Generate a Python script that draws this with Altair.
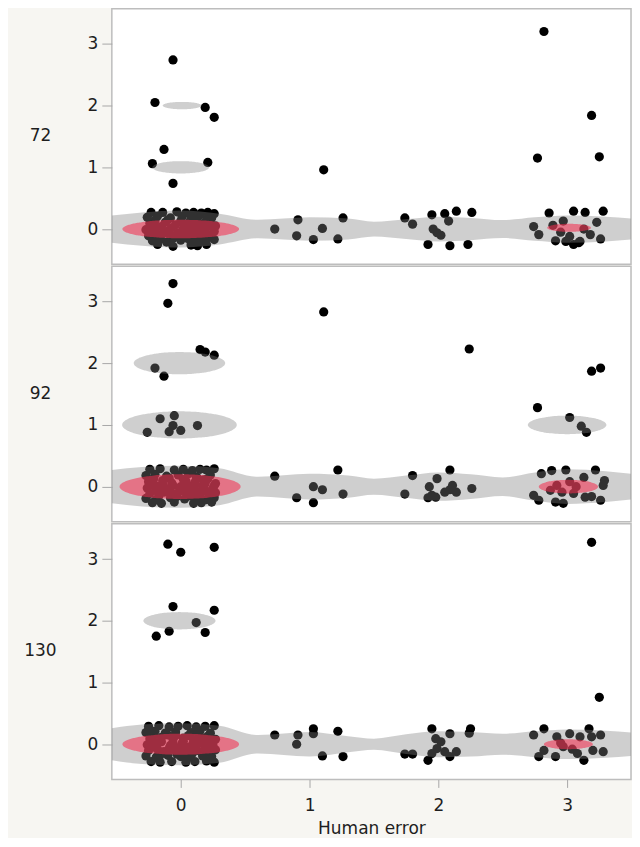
import altair as alt
import pandas as pd
import numpy as np

# ---------------- data ----------------
PANELS = ["72", "92", "130"]

# jittered points (x = Human error, y = value), per panel
P72_X = [-0.06, -0.20, 0.19, 0.26, -0.13, -0.22, 0.21, -0.06,
         -0.23, -0.14, -0.03, 0.04, 0.10, 0.16, 0.21, 0.26,
         -0.26, -0.18, -0.08, 0.01, 0.08, 0.14, 0.24,
         -0.24, -0.12, -0.04, 0.06, 0.15, 0.22, 0.27,
         -0.27, -0.19, -0.09, 0.02, 0.11, 0.19, 0.26,
         -0.25, -0.15, -0.05, 0.04, 0.14, 0.23,
         -0.22, -0.11, 0.00, 0.08, 0.17, 0.26,
         -0.18, -0.06, 0.08, 0.13, 0.20,
         -0.20, -0.10, 0.00, 0.12, 0.20, -0.21, -0.13, -0.02, 0.07, 0.16,
         0.23, -0.16, -0.06, 0.05, 0.12, 0.21, -0.20, 0.09,
         -0.23, -0.15, -0.07, 0.03, 0.11, 0.18, 0.25, -0.19, -0.10, 0.01, 0.10, 0.20,
         0.73, 0.91, 0.90, 1.03, 1.10, 1.22, 1.26, 1.11,
         1.74, 1.80, 1.95, 2.05, 2.14, 2.26, 2.08, 1.96, 1.99, 2.02, 1.92, 2.09, 2.23,
         2.82, 3.19, 3.25, 2.77,
         2.86, 3.05, 3.14, 3.28, 2.74, 2.78, 2.89, 2.97, 3.23, 3.26, 2.91, 3.05, 3.09,
         3.18, 3.13, 2.95, 3.02, 2.99, 3.10]
P72_Y = [2.74, 2.05, 1.97, 1.81, 1.29, 1.06, 1.08, 0.74,
         0.27, 0.27, 0.28, 0.26, 0.27, 0.26, 0.27, 0.25,
         0.19, 0.21, 0.18, 0.20, 0.17, 0.21, 0.18,
         0.09, 0.11, 0.07, 0.10, 0.08, 0.12, 0.05,
         -0.01, 0.02, -0.02, 0.01, -0.01, 0.03, -0.04,
         -0.11, -0.09, -0.12, -0.08, -0.11, -0.10,
         -0.19, -0.21, -0.18, -0.20, -0.19, -0.17,
         -0.25, -0.28, -0.26, -0.27, -0.25,
         0.14, 0.15, 0.13, 0.14, 0.15, -0.05, -0.04, -0.06, -0.04, -0.05,
         0.06, -0.16, -0.15, -0.15, -0.16, -0.14, 0.05, 0.05,
         0.03, 0.04, 0.02, 0.05, 0.03, 0.04, 0.02, -0.08, -0.07, -0.09, -0.08, -0.07,
         0.00, 0.15, -0.11, -0.17, 0.01, -0.16, 0.18, 0.96,
         0.18, 0.08, 0.23, 0.25, 0.29, 0.27, 0.13, 0.00, -0.06, -0.10, -0.25, -0.27, -0.25,
         3.20, 1.84, 1.17, 1.15,
         0.26, 0.29, 0.27, 0.29, 0.04, -0.09, 0.06, 0.13, 0.11, -0.16, -0.19, -0.25, -0.22,
         -0.09, 0.00, -0.05, -0.12, -0.20, -0.20]

P92_X = [-0.06, -0.10, 0.15, 0.19, 0.26, -0.20, -0.13,
         -0.16, -0.05, -0.06, -0.09, 0.00, 0.13, -0.26,
         -0.24, -0.16, -0.05, 0.02, 0.09, 0.15, 0.20, 0.26,
         -0.27, -0.20, -0.11, -0.02, 0.06, 0.12, 0.23,
         -0.25, -0.14, -0.07, 0.04, 0.11, 0.18, 0.27,
         -0.26, -0.18, -0.09, 0.00, 0.09, 0.17, 0.25,
         -0.24, -0.13, -0.04, 0.05, 0.14, 0.22, 0.27,
         -0.27, -0.19, -0.08, 0.03, 0.12, 0.20, 0.26,
         -0.22, -0.15, -0.05, 0.10, 0.16, 0.24,
         -0.21, -0.09, 0.02, 0.13, 0.21, -0.19, -0.12, -0.01, 0.08, 0.19,
         -0.17, -0.03, 0.07, 0.15, 0.24, -0.22, 0.05,
         -0.23, -0.14, -0.06, 0.03, 0.11, 0.19, 0.26, -0.18, -0.08, 0.01, 0.10, 0.21,
         0.73, 0.90, 1.03, 1.03, 1.10, 1.22, 1.26, 1.11,
         1.80, 2.09, 1.99, 1.74, 1.93, 1.95, 1.98, 2.05, 2.11, 2.14, 2.26, 2.09, 1.92, 2.24,
         2.77, 3.19, 3.26, 3.02, 3.11, 3.15,
         2.80, 2.88, 2.99, 3.13, 3.22, 3.28, 3.29, 2.74, 2.78, 2.91, 2.97, 3.07, 3.14,
         3.19, 3.26, 2.92, 3.02, 2.87, 3.05, 2.96]
P92_Y = [3.29, 2.97, 2.22, 2.18, 2.13, 1.92, 1.79,
         1.10, 1.15, 0.99, 0.89, 0.91, 0.99, 0.88,
         0.28, 0.29, 0.27, 0.28, 0.26, 0.28, 0.27, 0.29,
         0.18, 0.20, 0.17, 0.19, 0.21, 0.16, 0.19,
         0.08, 0.10, 0.06, 0.09, 0.07, 0.11, 0.05,
         -0.02, 0.01, -0.03, 0.00, -0.01, 0.02, -0.03,
         -0.11, -0.09, -0.12, -0.10, -0.08, -0.12, -0.10,
         -0.19, -0.21, -0.18, -0.20, -0.19, -0.21, -0.18,
         -0.26, -0.27, -0.25, -0.27, -0.26, -0.25,
         0.13, 0.14, 0.12, 0.14, 0.13, -0.06, -0.05, -0.07, -0.05, -0.06,
         -0.15, -0.16, -0.15, -0.15, -0.16, 0.04, 0.03,
         0.03, 0.04, 0.02, 0.04, 0.03, 0.05, 0.02, -0.08, -0.09, -0.07, -0.08, -0.09,
         0.17, -0.18, -0.26, 0.00, -0.05, 0.27, -0.12, 2.83,
         0.18, 0.27, 0.13, -0.12, 0.00, -0.14, -0.17, -0.09, 0.02, -0.09, -0.03, -0.05, -0.18, 2.23,
         1.28, 1.87, 1.92, 1.12, 0.98, 0.88,
         0.21, 0.26, 0.27, 0.15, 0.27, 0.02, 0.10, -0.14, -0.22, -0.25, -0.27, 0.00, -0.17,
         -0.16, -0.22, 0.02, 0.08, -0.06, -0.11, -0.09]

P130_X = [-0.10, 0.00, 0.26, -0.06, 0.26, 0.12, -0.19, -0.09, 0.19,
          -0.25, -0.17, -0.09, -0.02, 0.05, 0.12, 0.19, 0.26,
          -0.27, -0.20, -0.12, -0.04, 0.08, 0.15, 0.23,
          -0.24, -0.15, -0.06, 0.02, 0.10, 0.18, 0.27,
          -0.26, -0.18, -0.08, 0.01, 0.09, 0.16, 0.25,
          -0.25, -0.13, -0.05, 0.05, 0.13, 0.21, 0.27,
          -0.27, -0.19, -0.10, 0.00, 0.07, 0.17, 0.24,
          -0.23, -0.16, -0.07, 0.04, 0.11, 0.20, 0.26,
          -0.25, -0.17, -0.04, 0.03, 0.12, 0.21,
          -0.21, -0.10, 0.06, 0.14, 0.22, -0.20, -0.02, 0.05, 0.19,
          -0.14, -0.03, 0.09, 0.17, -0.22, 0.12,
          -0.23, -0.15, -0.06, 0.02, 0.10, 0.18, 0.25, -0.18, -0.09, 0.00, 0.09, 0.20,
          0.73, 0.91, 0.90, 1.03, 1.03, 1.22, 1.10, 1.26,
          1.74, 1.80, 1.92, 1.95, 1.98, 2.02, 2.09, 2.25, 2.24, 1.95, 2.05, 2.09, 2.14, 1.99,
          3.19, 3.25,
          2.74, 2.82, 2.78, 2.91, 2.92, 3.02, 3.10, 3.17, 3.19, 3.26, 3.28, 3.13, 3.08,
          2.97, 2.82, 3.20, 2.95, 3.04]
P130_Y = [3.24, 3.11, 3.19, 2.23, 2.17, 1.97, 1.75, 1.83, 1.81,
          0.29, 0.30, 0.28, 0.29, 0.30, 0.28, 0.29, 0.30,
          0.19, 0.21, 0.18, 0.20, 0.19, 0.22, 0.18,
          0.09, 0.11, 0.08, 0.10, 0.07, 0.10, 0.08,
          -0.01, 0.02, -0.02, 0.01, -0.01, 0.02, -0.02,
          -0.10, -0.12, -0.09, -0.11, -0.10, -0.12, -0.09,
          -0.19, -0.21, -0.18, -0.20, -0.21, -0.19, -0.20,
          -0.28, -0.29, -0.28, -0.29, -0.28, -0.27, -0.29,
          0.24, -0.24, 0.14, -0.15, 0.21, 0.13,
          0.14, 0.15, 0.14, 0.13, 0.04, -0.05, -0.06, -0.05, -0.06,
          -0.15, -0.16, -0.15, -0.15, 0.05, 0.04,
          0.03, 0.04, 0.02, 0.05, 0.03, 0.04, 0.03, -0.08, -0.07, -0.09, -0.08, -0.07,
          0.15, 0.15, 0.00, 0.25, 0.17, 0.21, -0.19, -0.20,
          -0.16, -0.16, -0.26, 0.25, 0.09, 0.04, 0.17, 0.25, 0.18, -0.15, -0.12, -0.20, -0.12, -0.07,
          3.27, 0.76,
          0.15, 0.25, -0.20, -0.20, 0.12, 0.17, 0.12, 0.25, 0.12, 0.15, -0.12, -0.26, -0.15,
          -0.04, -0.10, -0.10, 0.02, -0.08]

# grey density band around y = 0: half-thickness (y units) at these x positions
BAND_X = [-0.535, -0.30, 0.00, 0.30, 0.60, 1.00, 1.30, 1.50, 1.75, 2.00, 2.25, 2.50, 2.75, 3.00, 3.30, 3.495]
BAND_72 = [0.22, 0.27, 0.30, 0.25, 0.15, 0.19, 0.17, 0.12, 0.16, 0.20, 0.18, 0.145, 0.19, 0.22, 0.20, 0.17]
BAND_92 = [0.27, 0.32, 0.34, 0.30, 0.16, 0.21, 0.18, 0.13, 0.18, 0.23, 0.20, 0.15, 0.23, 0.28, 0.25, 0.21]
BAND_130 = [0.26, 0.32, 0.34, 0.30, 0.15, 0.20, 0.13, 0.09, 0.16, 0.21, 0.20, 0.17, 0.21, 0.24, 0.22, 0.19]

# grey contour ellipses: panel, centre x, centre y, half width, half height
GRAY_PANEL = ["72", "72", "92", "92", "92", "130"]
GRAY_CX = [0.01, 0.00, -0.01, -0.01, 3.00, -0.01]
GRAY_CY = [2.00, 1.00, 2.00, 1.00, 1.00, 2.00]
GRAY_A = [0.15, 0.22, 0.355, 0.445, 0.305, 0.28]
GRAY_B = [0.06, 0.10, 0.18, 0.22, 0.15, 0.14]

# red core ellipses
PINK_PANEL = ["72", "72", "92", "92", "130", "130"]
PINK_CX = [0.00, 3.015, -0.005, 3.01, 0.00, 3.01]
PINK_CY = [0.00, 0.02, 0.00, 0.00, 0.00, 0.00]
PINK_A = [0.453, 0.17, 0.47, 0.23, 0.453, 0.19]
PINK_B = [0.15, 0.065, 0.20, 0.11, 0.17, 0.08]

POINTS = {"72": (P72_X, P72_Y), "92": (P92_X, P92_Y), "130": (P130_X, P130_Y)}
BANDS = {"72": BAND_72, "92": BAND_92, "130": BAND_130}

X_DOMAIN = [-0.535, 3.496]
Y_DOMAIN = [-0.57, 3.57]
FONT = "DejaVu Sans"


def ellipse_rows(kind, ids, panels, cxs, cys, As, Bs, panel):
    rows = []
    t = np.linspace(np.pi, 0, 61)
    for i, p, cx, cy, a, b in zip(ids, panels, cxs, cys, As, Bs):
        if p != panel:
            continue
        for tt in t:
            rows.append({"x": cx + a * np.cos(tt), "lo": cy - b * np.sin(tt),
                         "hi": cy + b * np.sin(tt), "id": f"{kind}{i}"})
    return rows


def make_panel(name, bottom):
    xs, ys = POINTS[name]
    pts = pd.DataFrame({"x": xs, "y": ys})
    band = pd.DataFrame({"x": BAND_X, "lo": [-h for h in BANDS[name]],
                         "hi": BANDS[name], "id": "band"})
    gray = pd.DataFrame(ellipse_rows("g", range(len(GRAY_PANEL)), GRAY_PANEL, GRAY_CX,
                                     GRAY_CY, GRAY_A, GRAY_B, name))
    gray = pd.concat([band, gray], ignore_index=True)
    pink = pd.DataFrame(ellipse_rows("p", range(len(PINK_PANEL)), PINK_PANEL, PINK_CX,
                                     PINK_CY, PINK_A, PINK_B, name))

    xscale = alt.Scale(domain=X_DOMAIN, nice=False, zero=False)
    yscale = alt.Scale(domain=Y_DOMAIN, nice=False, zero=False)
    if bottom:
        xaxis = alt.Axis(values=[0, 1, 2, 3], title="Human error", grid=False, domain=False,
                         tickSize=8, tickColor="#a8a8a8", labelPadding=10, labelFontSize=17,
                         titleFontSize=17, titleFontWeight="normal", titlePadding=7,
                         labelFont=FONT, titleFont=FONT)
    else:
        xaxis = None
    yaxis = alt.Axis(values=[0, 1, 2, 3], title=name, titleAngle=0, titleX=-72, titleY=127,
                     titleAlign="center", titleBaseline="middle", titleFontWeight="normal",
                     titleFontSize=17, labelFontSize=17, grid=False, domain=False,
                     tickSize=10, tickColor="#a8a8a8", labelPadding=4,
                     labelFont=FONT, titleFont=FONT)

    X = alt.X("x:Q", scale=xscale, axis=xaxis)
    pts_layer = alt.Chart(pts).mark_circle(size=85, color="black", opacity=1).encode(
        x=X, y=alt.Y("y:Q", scale=yscale, axis=yaxis))
    gray_layer = alt.Chart(gray).mark_area(color="#828282", opacity=0.38,
                                          interpolate="monotone", clip=True).encode(
        x=X, y=alt.Y("lo:Q", scale=yscale, axis=yaxis), y2="hi:Q", detail="id:N")
    pink_layer = alt.Chart(pink).mark_area(color="#f52a4c", opacity=0.56,
                                          interpolate="monotone", clip=True).encode(
        x=X, y=alt.Y("lo:Q", scale=yscale, axis=yaxis), y2="hi:Q", detail="id:N")
    return alt.layer(pts_layer, gray_layer, pink_layer).properties(width=520, height=256)


chart = alt.vconcat(
    make_panel("72", False),
    make_panel("92", False),
    make_panel("130", True),
    spacing=0,
).properties(
    background="#f7f6f2",
    padding={"left": 15, "top": -1, "right": 0, "bottom": 0},
).configure_view(
    fill="white", stroke="#bdbdbd", strokeWidth=1.5
).configure_axis(
    labelColor="#1e1e1e", titleColor="#1e1e1e"
)

chart.save("out.html", embed_options={"renderer": "svg", "actions": False})
